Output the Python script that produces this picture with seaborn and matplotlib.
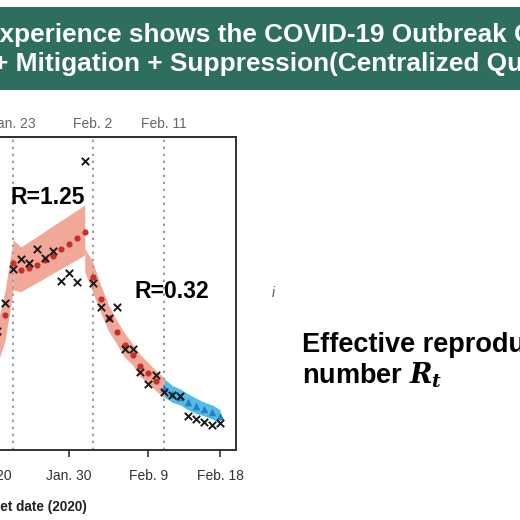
import numpy as np
import pandas as pd
import matplotlib
matplotlib.use("Agg")
import matplotlib.pyplot as plt
import seaborn as sns
from matplotlib.patches import Rectangle

# ---- data (x = day number counted from Jan 1 2020, so Feb d = 31 + d) ----
obs_days = list(range(21, 50))
obs_vals = [38.0, 47.0, 57.8, 61.0, 59.7, 64.2, 61.3, 63.6, 54.0, 56.5, 53.7, 92.3,
            53.4, 45.7, 42.2, 45.7, 32.3, 32.3, 24.9, 21.1, 24.0, 18.5, 17.6, 17.3,
            10.9, 9.9, 8.9, 8.0, 8.6]

fit_days = list(range(22, 42))
fit_vals = [43.1, 59.7, 57.5, 58.1, 59.1, 60.7, 62.0, 64.2, 65.8, 67.7, 69.6,
            55.3, 48.2, 42.2, 37.7, 33.5, 30.4, 26.8, 24.6, 22.0]

late_days = list(range(42, 50))
late_vals = [19.8, 17.9, 16.9, 15.3, 14.1, 13.1, 12.1, 10.9]

p1_days = [21, 22, 23]
p1_lo = [27.2, 35.1, 51.1]
p1_hi = [39.9, 51.1, 67.1]
p2_days = list(range(23, 33))
p2_lo = [51.1, 50.6, 52.1, 53.5, 55.0, 56.5, 57.9, 59.4, 60.8, 62.3]
p2_hi = [67.1, 64.9, 66.6, 68.2, 69.9, 71.6, 73.3, 74.9, 76.6, 78.3]
p3_days = list(range(32, 43))
p3_lo = [56.9, 50.5, 43.8, 38.0, 33.9, 29.7, 27.2, 23.3, 21.4, 18.8, 16.6]
p3_hi = [64.5, 60.1, 52.7, 46.3, 41.5, 37.4, 33.9, 30.4, 27.8, 25.2, 23.0]
p4_days = list(range(42, 50))
p4_lo = [16.9, 15.2, 14.4, 12.8, 11.7, 10.9, 9.9, 8.8]
p4_hi = [22.7, 20.6, 19.5, 17.9, 16.5, 15.3, 14.4, 12.9]

bottom_ticks = [20, 30, 40, 49]
bottom_labels = ["Jan. 20", "Jan. 30", "Feb. 9", "Feb. 18"]
event_days = [23, 33, 42]
event_labels = ["Jan. 23", "Feb. 2", "Feb. 11"]

title_1 = "Experience shows the COVID-19 Outbreak Can"
title_2 = "+ Mitigation + Suppression(Centralized Quarantine)"
r_labels = ["R=1.25", "R=0.32"]

obs_df = pd.DataFrame({"day": obs_days, "value": obs_vals})
fit_df = pd.DataFrame({"day": fit_days, "value": fit_vals})
late_df = pd.DataFrame({"day": late_days, "value": late_vals})

# ---- style ----
sns.set_theme(style="white")
plt.rcParams["font.family"] = ["Liberation Sans", "DejaVu Sans"]
plt.rcParams["mathtext.fontset"] = "custom"
plt.rcParams["mathtext.it"] = "DejaVu Serif:italic:bold"
plt.rcParams["mathtext.rm"] = "DejaVu Serif:bold"

W = H = 520
fig = plt.figure(figsize=(5.2, 5.2), dpi=100)
fig.patch.set_facecolor("white")

# green banner
fig.add_artist(Rectangle((0, (H - 90) / H), 1, 83 / H, transform=fig.transFigure,
                         facecolor="#2E6E5E", edgecolor="none", zorder=0))
fig.text(-17.8 / W, (H - 35) / H, title_1, color="white", fontsize=18.8,
         fontweight="bold", ha="left", va="center")
fig.text(-7 / W, (H - 64) / H, title_2, color="white", fontsize=18.9,
         fontweight="bold", ha="left", va="center")

# axes: right edge at x=236px, top 137px, bottom 450px; left edge off canvas
px_per_day = 7.96
xmin, xmax = 10, 51
ax_right = 236
ax_left = ax_right - (xmax - xmin) * px_per_day
ax = fig.add_axes([ax_left / W, (H - 450) / H, (ax_right - ax_left) / W, 313 / H])
ax.set_xlim(xmin, xmax)
ax.set_ylim(0, 100)

band_red = "#F2A898"
band_blue = "#52BDE9"
for d, lo, hi in [(p1_days, p1_lo, p1_hi), (p2_days, p2_lo, p2_hi), (p3_days, p3_lo, p3_hi)]:
    ax.fill_between(d, lo, hi, color=band_red, linewidth=0, zorder=1)
ax.fill_between(p4_days, p4_lo, p4_hi, color=band_blue, linewidth=0, zorder=1)

for d in event_days:
    ax.axvline(d, color="#9C9C9C", lw=1.4, ls=(0, (1.2, 2.4)), zorder=2)

sns.scatterplot(data=fit_df, x="day", y="value", ax=ax, color="#C6302A", s=20,
                linewidth=0, zorder=4)
sns.scatterplot(data=late_df, x="day", y="value", ax=ax, color="#2A7DC0", marker="^",
                s=30, linewidth=0, zorder=4)
sns.scatterplot(data=obs_df, x="day", y="value", ax=ax, color="#1A1A1A", marker="x",
                s=28, linewidth=1.4, zorder=5)

ax.text(22.62, 80.8, r_labels[0], fontsize=16.5, fontweight="bold", color="black",
        ha="left", va="center", zorder=6)
ax.text(38.22, 50.6, r_labels[1], fontsize=16.5, fontweight="bold", color="black",
        ha="left", va="center", zorder=6)

for s in ax.spines.values():
    s.set_color("#333333")
    s.set_linewidth(1.4)
ax.set_yticks([])
ax.set_ylabel("")
ax.set_xticks(bottom_ticks, labels=bottom_labels)
ax.tick_params(axis="x", bottom=True, direction="out", length=5, width=1.2,
               color="#333333", labelsize=10, labelcolor="#333333", pad=8.5)
ax.set_xlabel("Onset date (2020)", fontsize=9.8, fontweight="bold", color="#222222")
ax.xaxis.set_label_coords((87 - ax_left) / (ax_right - ax_left), (450 - 507) / 313)
ax.xaxis.label.set_ha("right")
ax.xaxis.label.set_va("center")

sec = ax.secondary_xaxis("top")
sec.set_xticks(event_days, labels=event_labels)
sec.tick_params(length=0, pad=4.5, labelsize=10, labelcolor="#666666")
sec.spines["top"].set_color("#333333")
sec.spines["top"].set_linewidth(1.4)

# right-hand slide text
fig.text(302 / W, (H - 345) / H, "Effective reproduction", fontsize=19.5, fontweight="bold",
         color="black", ha="left", va="center")
fig.text(302 / W, (H - 375) / H, r"number $R_t$", fontsize=19.5, fontweight="bold",
         color="black", ha="left", va="center")
fig.text(273 / W, (H - 293) / H, "i", fontsize=10, fontstyle="italic", color="#555555",
         ha="center", va="center")

fig.savefig("out.png", dpi=100, facecolor="white")
